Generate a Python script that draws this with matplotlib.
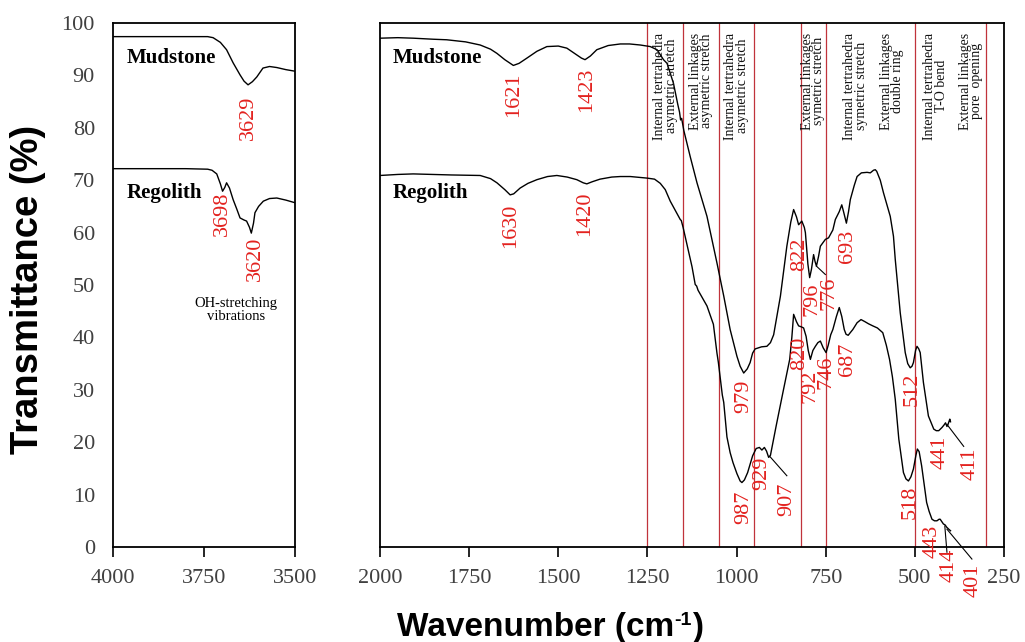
import matplotlib
matplotlib.use("Agg")
import matplotlib.pyplot as plt

# ---------------- data ----------------
# Left panel (OH region)
left_mud_wn = [4000, 3900, 3800, 3740, 3725, 3705, 3688, 3670, 3651, 3640, 3629, 3617, 3605, 3588, 3570, 3550, 3525, 3500]
left_mud_t = [97.4, 97.4, 97.4, 97.4, 97.2, 96.3, 94.9, 92.4, 90.1, 88.9, 88.2, 88.8, 89.7, 91.4, 91.7, 91.5, 91.1, 90.8]

left_reg_wn = [4000, 3800, 3740, 3728, 3715, 3705, 3699, 3693, 3688, 3680, 3670, 3660, 3651, 3640, 3633, 3625, 3620, 3614, 3610, 3600, 3587, 3570, 3550, 3525, 3505, 3500]
left_reg_t = [72.2, 72.2, 72.1, 71.9, 71.2, 69.3, 67.9, 68.6, 69.5, 68.5, 66.3, 64.5, 62.8, 62.4, 62.2, 61.0, 59.9, 61.8, 63.8, 65.0, 66.0, 66.5, 66.6, 66.2, 65.8, 65.7]

# Right panel (fingerprint region)
mud_wn = [2000, 1950, 1906, 1850, 1813, 1760, 1719, 1690, 1672, 1650, 1626, 1610, 1588, 1560, 1532, 1500,
          1476, 1448, 1435, 1425, 1410, 1392, 1360, 1326, 1300, 1270, 1242, 1223, 1205, 1195, 1177, 1165,
          1160, 1157, 1154, 1148, 1130, 1111, 1083, 1055, 1036, 1018, 999, 990, 980, 970, 962, 955, 948,
          930, 915, 905, 896, 877, 859, 848, 840, 832, 826, 817, 810, 807, 800, 795, 790, 784, 780, 776,
          770, 765, 751, 742, 730, 723, 712, 705, 700, 692, 686, 681, 670, 662, 650, 634, 625, 616, 611,
          607, 597, 588, 569, 560, 555, 541, 527, 520, 513, 508, 504, 498, 494, 489, 485, 476, 462, 447,
          440, 433, 424, 418, 414, 410, 407, 404, 402, 400]
mud_t = [97.1, 97.2, 97.1, 96.9, 96.8, 96.4, 95.8, 95.0, 94.2, 93.0, 91.9, 92.3, 93.3, 94.6, 95.5, 95.6,
         95.2, 93.9, 93.3, 93.0, 93.7, 94.9, 95.7, 96.0, 96.0, 95.8, 95.5, 94.9, 93.0, 92.3, 88.5, 84.5,
         83.0, 81.5, 81.8, 79.5, 74.5, 69.5, 63.1, 54.2, 47.9, 41.5, 36.4, 34.5, 33.2, 34.0, 35.2, 37.0, 37.8,
         38.2, 38.3, 39.0, 40.5, 47.9, 57.4, 62.0, 64.4, 63.0, 61.5, 62.2, 61.0, 60.0, 54.0, 51.4, 53.0, 55.8, 54.5, 53.6,
         55.5, 57.4, 58.7, 59.0, 60.5, 62.5, 64.0, 65.3, 64.0, 61.8, 64.0, 66.3, 69.0, 70.7, 71.4, 71.5, 71.4, 71.9, 72.0,
         71.7, 70.0, 67.6, 63.1, 59.3, 54.9, 44.7, 37.1, 35.0, 34.2, 34.5, 35.2, 37.5, 38.3, 37.8, 37.1, 31.4, 25.0, 22.5,
         22.2, 22.2, 22.8, 23.3, 23.7, 23.0, 23.4, 24.0, 24.4, 23.9]

reg_wn = [2000, 1950, 1907, 1800, 1719, 1690, 1672, 1650, 1635, 1625, 1607, 1585, 1560, 1530, 1504, 1475,
          1448, 1430, 1420, 1405, 1383, 1350, 1326, 1298, 1251, 1230, 1214, 1200, 1186, 1170, 1158, 1155,
          1150, 1136, 1125, 1116, 1112, 1108, 1083, 1065, 1055, 1051, 1040, 1036, 1027, 1018, 1010, 999,
          990, 985, 978, 969, 962, 955, 945, 936, 929, 922, 916, 910, 905, 889, 870, 851, 845, 840, 832,
          826, 818, 812, 805, 799, 793, 786, 779, 772, 765, 757, 749, 743, 736, 730, 720, 712, 705, 698,
          693, 687, 680, 674, 662, 651, 640, 630, 618, 605, 590, 580, 571, 563, 555, 545, 532, 525, 518,
          511, 504, 497, 493, 488, 481, 474, 467, 460, 452, 445, 438, 432, 429, 424, 420, 415, 411, 405, 400]
reg_t = [70.9, 71.1, 71.2, 71.0, 70.9, 70.3, 69.5, 68.2, 67.2, 67.4, 68.5, 69.4, 70.1, 70.7, 70.9, 70.6,
         70.1, 69.5, 69.3, 69.7, 70.2, 70.6, 70.7, 70.7, 70.4, 70.2, 69.4, 68.2, 66.0, 64.0, 62.5, 62.3,
         61.0, 56.8, 53.5, 50.1, 49.8, 49.0, 46.0, 42.5, 37.0, 35.2, 29.0, 27.6, 21.0, 18.0, 16.1, 14.0,
         12.6, 12.3, 12.8, 14.2, 15.8, 17.4, 18.8, 19.0, 18.5, 19.0, 18.3, 17.1, 17.5, 23.1, 29.5, 35.8, 40.0, 44.4, 43.0,
         42.2, 42.0, 41.8, 40.2, 37.5, 35.8, 37.5, 38.3, 39.0, 39.3, 38.0, 37.1, 38.5, 40.5, 41.5, 44.0, 45.7, 44.0, 41.5,
         40.6, 40.4, 41.0, 41.5, 42.8, 43.4, 43.0, 42.6, 42.2, 41.8, 40.9, 38.5, 35.8, 32.5, 28.2, 20.6, 14.2, 13.0, 12.6,
         13.4, 14.9, 17.5, 18.7, 18.2, 15.5, 12.0, 8.5, 6.8, 5.3, 5.0, 5.0, 5.3, 5.3, 4.8, 4.4, 4.2, 3.8, 3.4, 3.1]

# region boundaries (vertical red lines)
region_lines = [1250, 1150, 1050, 950, 820, 750, 500, 300]
region_labels = ["Internal tertrahedra\nasymetric stretch", "External linkages\nasymetric stretch",
                 "Internal tertrahedra\nasymetric stretch", "External linkages\nsymetric stretch",
                 "Internal tertrahedra\nsymetric stretch", "External linkages\ndouble ring",
                 "Internal tertrahedra\nT-O bend", "External linkages\npore  opening"]
region_label_wn = [1200, 1100, 1000, 785, 667, 564, 442, 342]

# peak labels: (text, wn, T)
left_peaks = [("3629", 3629, 82.0), ("3698", 3698, 63.5), ("3620", 3610, 55.0)]
right_peaks = [("1621", 1625, 86.3), ("1423", 1421, 87.2), ("1630", 1633, 61.2), ("1420", 1425, 63.6),
               ("979", 981, 28.8), ("987", 981, 7.6), ("929", 929, 14.1), ("907", 859, 9.1),
               ("822", 822, 55.8), ("796", 789, 47.2), ("776", 742, 48.5), ("693", 690, 57.4),
               ("820", 822, 37.0), ("792", 795, 30.7), ("746", 750, 33.3), ("687", 690, 35.8),
               ("512", 507, 30.0), ("441", 430, 18.0), ("411", 346, 15.8), ("518", 513, 8.6),
               ("443", 451, 1.0), ("414", 404, -3.4), ("401", 336, -6.3)]
# leader lines: (wn0, T0, wn1, T1)
leaders = [(907, 17.3, 859, 13.6), (410, 23.4, 363, 19.2), (410, 3.4, 340, -2.3),
           (416, 4.0, 410, -1.0), (776, 53.6, 751, 52.0)]

x_ticks_left = [4000, 3750, 3500]
x_ticks_right = [2000, 1750, 1500, 1250, 1000, 750, 500, 250]
y_ticks = [0, 10, 20, 30, 40, 50, 60, 70, 80, 90, 100]

# ---------------- styling ----------------
SERIF = "Liberation Serif"
SANS = "Liberation Sans"
RED = "#e3221f"
LINE_RED = "#c0333b"
TICK_COLOR = "#404040"

W, H = 1025, 642
fig = plt.figure(figsize=(W / 100, H / 100), dpi=100)

def fx(px):
    return px / W

def fy(py):
    return 1 - py / H

ax_bottom, ax_top = 547, 23
axL = fig.add_axes([fx(113), fy(ax_bottom), fx(295) - fx(113), fy(ax_top) - fy(ax_bottom)])
axR = fig.add_axes([fx(380), fy(ax_bottom), fx(1004) - fx(380), fy(ax_top) - fy(ax_bottom)])

for ax in (axL, axR):
    ax.set_ylim(0, 100)
    for sp in ax.spines.values():
        sp.set_linewidth(1.3)
        sp.set_color("black")
    ax.tick_params(axis="x", direction="out", length=7, width=1.2, pad=9,
                   labelsize=16, labelcolor=TICK_COLOR)
    ax.tick_params(axis="y", length=0)

axL.set_xlim(4000, 3500)
axR.set_xlim(2000, 250)
axL.set_xticks(x_ticks_left)
axR.set_xticks(x_ticks_right)
axL.set_yticks(y_ticks)
axL.tick_params(axis="y", pad=13, labelsize=16, labelcolor=TICK_COLOR)
axR.set_yticks([])
for ax in (axL, axR):
    for lab in ax.get_xticklabels() + ax.get_yticklabels():
        lab.set_family(SERIF)

# curves
axL.plot(left_mud_wn, left_mud_t, color="black", lw=1.0)
axL.plot(left_reg_wn, left_reg_t, color="black", lw=1.0)
axR.plot(mud_wn, mud_t, color="black", lw=1.0)
axR.plot(reg_wn, reg_t, color="black", lw=1.0)

# region lines and labels
for xv in region_lines:
    axR.axvline(xv, color=LINE_RED, lw=0.9, zorder=1)
for txt, xv in zip(region_labels, region_label_wn):
    axR.text(xv, 98.2, txt, rotation=90, ha="center", va="top", fontsize=10,
             family=SERIF, multialignment="center", linespacing=0.85, color="#111111")

# sample names
for ax, x0 in ((axL, 3962), (axR, 1964)):
    ax.text(x0, 93.3, "Mudstone", ha="left", va="center", fontsize=15,
            fontweight="bold", family=SERIF)
    ax.text(x0, 67.6, "Regolith", ha="left", va="center", fontsize=15,
            fontweight="bold", family=SERIF)

axL.text(3662, 45.3, "OH-stretching\nvibrations", ha="center", va="center",
         fontsize=10.5, family=SERIF, linespacing=1.0)

# peak labels
for txt, xv, yv in left_peaks:
    axL.text(xv, yv, txt, rotation=90, ha="center", va="center", fontsize=16,
             family=SERIF, color=RED)
for txt, xv, yv in right_peaks:
    axR.text(xv, yv, txt, rotation=90, ha="center", va="center", fontsize=16,
             family=SERIF, color=RED, clip_on=False, zorder=5)
for x0, y0, x1, y1 in leaders:
    axR.plot([x0, x1], [y0, y1], color="black", lw=0.8, clip_on=False)

# axis titles
fig.text(fx(28), fy(289), "Transmittance (%)", rotation=90, ha="center", va="center",
         fontsize=27.5, fontweight="bold", family=SANS)

# x title with small superscript built from pieces
renderer = fig.canvas.get_renderer()
main_kw = dict(fontsize=24, fontweight="bold", family=SANS, va="baseline")
sup_kw = dict(fontsize=14, fontweight="bold", family=SANS, va="baseline")
parts = [("Wavenumber (cm", main_kw, 0), ("-1", sup_kw, 11), (")", main_kw, 0)]
widths = []
for s, kw, _ in parts:
    t = fig.text(0, 0, s, **kw)
    widths.append(t.get_window_extent(renderer).width)
    t.remove()
total = sum(widths)
x_start = 550 - total / 2
baseline = 636
xcur = x_start
for (s, kw, rise), w in zip(parts, widths):
    fig.text(fx(xcur), fy(baseline - rise), s, ha="left", **kw)
    xcur += w

fig.savefig("out.png", dpi=100)
